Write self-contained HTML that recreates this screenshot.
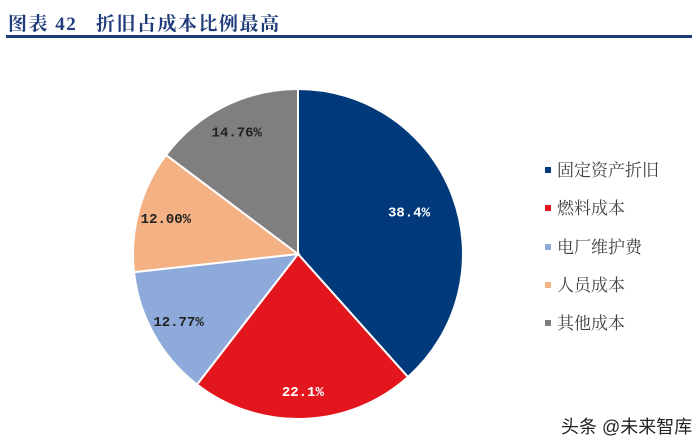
<!DOCTYPE html>
<html><head><meta charset="utf-8"><style>
body{margin:0;background:#fff;}
#c{position:relative;width:700px;height:444px;overflow:hidden;font-family:"Liberation Serif","Noto Serif CJK SC",serif;}
.title{position:absolute;left:8px;top:9px;font-size:19px;font-weight:bold;color:#1f3c7a;letter-spacing:1.5px;white-space:nowrap}
.rule{position:absolute;left:6px;top:35px;width:686px;height:3px;background:#1f3c7a}
.leg{position:absolute;left:545px;font-size:17px;color:#404040;white-space:nowrap;font-family:"Liberation Serif","Noto Serif CJK SC",serif}
.leg i{display:inline-block;width:6px;height:6px;margin-right:6px;vertical-align:middle;position:relative;top:-2px}
.wm{position:absolute;left:561px;top:413px;font-size:18px;color:#222;font-family:"Liberation Sans","Noto Sans CJK SC",sans-serif;white-space:nowrap}
</style></head><body>
<div id="c">
<div class="title">图表 42&nbsp;&nbsp;&nbsp;折旧占成本比例最高</div>
<div class="rule"></div>
<svg id="pie" width="700" height="444" style="position:absolute;left:0;top:0"></svg>
<div id="legend"></div>
<div class="wm">头条 @未来智库</div>
</div>
<script>
const categories=["固定资产折旧","燃料成本","电厂维护费","人员成本","其他成本"];
const values=[38.4,22.1,12.77,12.00,14.76];
const valueLabels=["38.4%","22.1%","12.77%","12.00%","14.76%"];
const colors=["#003a7a","#e3161e","#8eaadb","#f4b183","#7f7f7f"];
const textColors=["#fff","#fff","#222","#222","#222"];
const svg=document.getElementById('pie');
const NS="http://www.w3.org/2000/svg";
const cx=298,cy=254,r=165;
const total=values.reduce((a,b)=>a+b,0);
let a0=0;
function pt(a,rr){return [cx+rr*Math.sin(a),cy-rr*Math.cos(a)];}
values.forEach((v,i)=>{
  const a1=a0+v/total*2*Math.PI;
  const p0=pt(a0,r),p1=pt(a1,r);
  const large=(a1-a0)>Math.PI?1:0;
  const path=document.createElementNS(NS,'path');
  path.setAttribute('d',`M${cx},${cy} L${p0[0]},${p0[1]} A${r},${r} 0 ${large} 1 ${p1[0]},${p1[1]} Z`);
  path.setAttribute('fill',colors[i]);
  path.setAttribute('stroke','#fff');
  path.setAttribute('stroke-width','2');
  
  
  svg.appendChild(path);
  const m=(a0+a1)/2;const lp=pt(m,r*(i===0?0.72:0.83));
  const t=document.createElementNS(NS,'text');
  t.setAttribute('x',lp[0]);t.setAttribute('y',lp[1]+5);
  t.setAttribute('text-anchor','middle');
  t.setAttribute('font-family','"Liberation Mono",monospace');
  t.setAttribute('font-size','14');t.setAttribute('font-weight','bold');
  t.setAttribute('fill',textColors[i]);
  t.textContent=valueLabels[i];
  
  
  svg.appendChild(t);
  a0=a1;
});
const lg=document.getElementById('legend');
categories.forEach((c,i)=>{
  const d=document.createElement('div');
  d.className='leg';d.style.top=(156+i*38.3)+'px';
  d.innerHTML='<i style="background:'+colors[i]+'"></i>'+c;
  
  
  lg.appendChild(d);
});
</script>
</body></html>
